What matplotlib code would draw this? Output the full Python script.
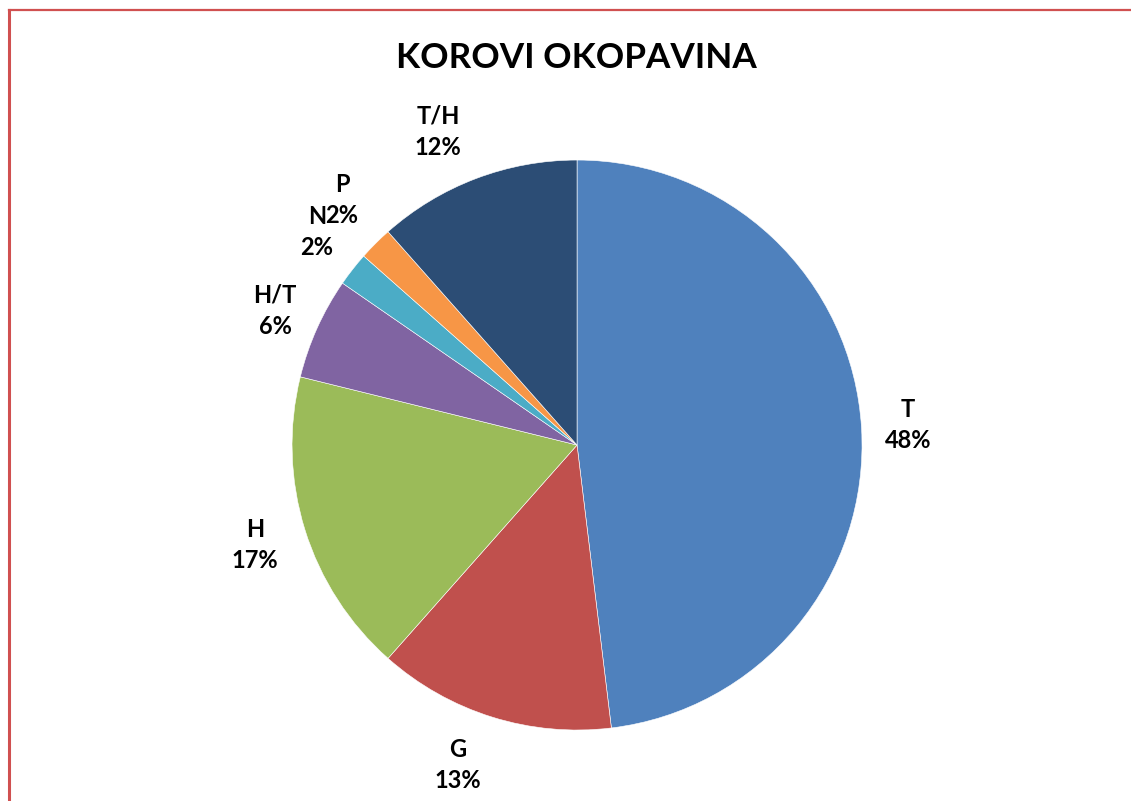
import matplotlib.pyplot as plt
from matplotlib.lines import Line2D

# podaci sa grafikona (broj vrsta po kategoriji, postoci se računaju)
categories = ["T", "G", "H", "H/T", "N", "P", "T/H"]
values = [25, 7, 9, 3, 1, 1, 6]
colors = ["#4F81BD", "#C0504D", "#9BBB59", "#8064A2", "#4BACC6", "#F79646", "#2C4D75"]

# položaji oznaka (Excel ih raspoređuje sam)
label_pos = [(1.161, 0.070), (-0.418, -1.123), (-1.130, -0.351), (-1.060, 0.470),
             (-0.912, 0.747), (-0.825, 0.860), (-0.488, 1.098)]

plt.rcParams['font.family'] = ['Lato', 'DejaVu Sans']

fig = plt.figure(figsize=(11.31, 8.01), dpi=100)
ax = fig.add_axes([0.1322, -0.0893, 0.756, 1.0674])

total = sum(values)
labels = [f"{c}\n{int(100 * v / total + 0.5)}%" for c, v in zip(categories, values)]
wedges, texts = ax.pie(values, labels=labels, colors=colors, startangle=90,
                       counterclock=False, labeldistance=1.19,
                       wedgeprops=dict(edgecolor="white", linewidth=0.4),
                       textprops=dict(fontsize=17, fontweight="bold", color="black"))
for t, pos in zip(texts, label_pos):
    t.set_ha("center")
    t.set_va("center")
    t.set_multialignment("center")
    t.set_linespacing(1.45)
    t.set_position(pos)

ax.set_xlim(-1.5, 1.5)
ax.set_ylim(-1.5, 1.5)
ax.set_aspect("equal")
ax.axis("off")

fig.text(0.510, 0.927, "KOROVI OKOPAVINA", ha="center", va="center",
         fontsize=25.3, fontweight="bold")

# crveni okvir (gore i lijevo)
fig.add_artist(Line2D([0.0080, 1.0], [0.9870, 0.9870], color="#D05050", lw=1.6,
                      transform=fig.transFigure))
fig.add_artist(Line2D([0.0080, 0.0080], [0.0, 0.9870], color="#D05050", lw=2.2,
                      transform=fig.transFigure))

fig.savefig("out.png", dpi=100)
